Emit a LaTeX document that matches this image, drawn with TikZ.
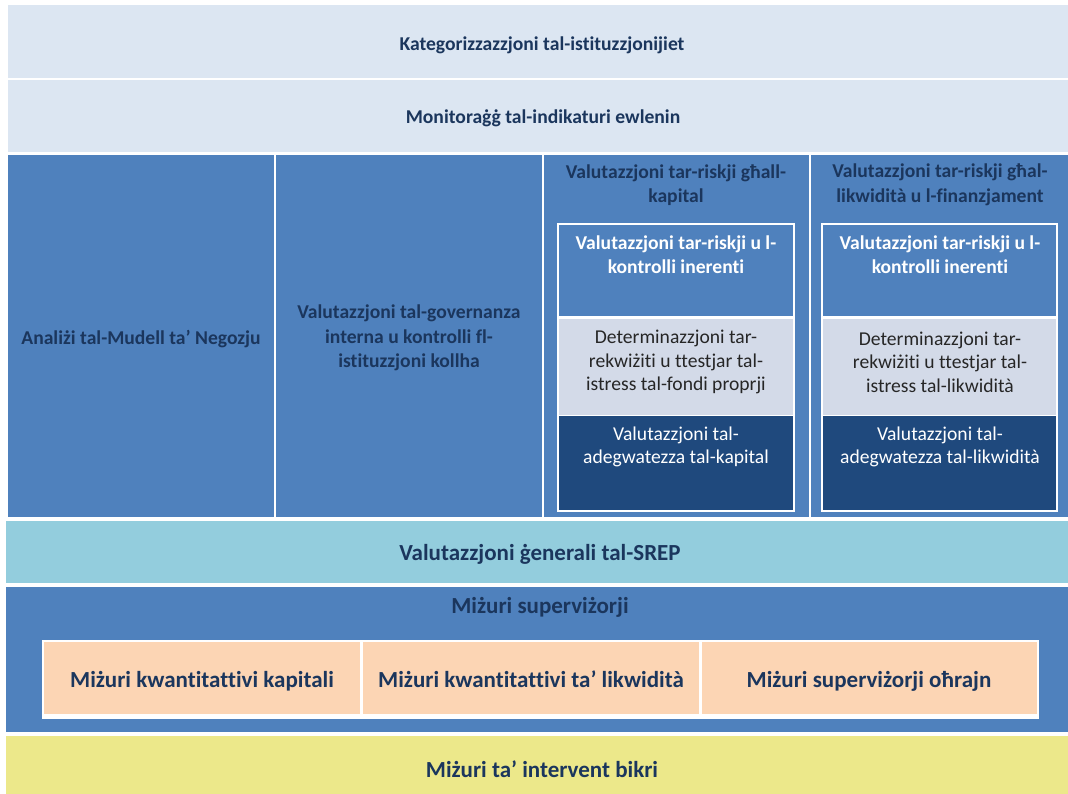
\documentclass[tikz,border=0pt]{standalone}
\usepackage{fontspec}
\setmainfont{Carlito}[Ligatures=NoCommon]
\usetikzlibrary{fit}
\definecolor{lightband}{HTML}{DCE6F2}
\definecolor{midblue}{HTML}{4F81BD}
\definecolor{lav}{HTML}{D3DAE8}
\definecolor{navybox}{HTML}{1F497D}
\definecolor{srepc}{HTML}{93CDDD}
\definecolor{peach}{HTML}{FCD5B4}
\definecolor{yel}{HTML}{ECE88A}
\definecolor{navytxt}{HTML}{1B365D}
\begin{document}
\begin{tikzpicture}[x=1pt,y=-1pt,
  area/.style={inner sep=0pt, outer sep=0pt, draw=none},
  lbl/.style={font=\bfseries\fontsize{19.6}{24.5}\selectfont, text=navytxt, align=center, inner sep=0pt},
  wlbl/.style={font=\bfseries\fontsize{19.6}{24}\selectfont, text=white, align=center, inner sep=0pt},
  plbl/.style={font=\fontsize{19.6}{23.5}\selectfont, text=black!85, align=center, inner sep=0pt},
  dlbl/.style={font=\fontsize{19.6}{23.5}\selectfont, text=white, align=center, inner sep=0pt},
  big/.style={font=\bfseries\fontsize{23}{26}\selectfont, text=navytxt, align=center, inner sep=0pt, anchor=base}]
\useasboundingbox[fill=white] (0,0) rectangle (1068,794);
% top bands
\node[area, fill=lightband, fit={(8,5) (1068,78)}] (b1) {};
\node[area, fill=lightband, fit={(8,80) (1068,152)}] (b2) {};
% columns
\node[area, fill=midblue, fit={(8,155) (274,517)}] (c1) {};
\node[area, fill=midblue, fit={(276,155) (542,517)}] (c2) {};
\node[area, fill=midblue, fit={(544,155) (809,517)}] (c3) {};
\node[area, fill=midblue, fit={(811,155) (1068,517)}] (c4) {};
% sub-boxes column 3
\node[area, fill=white, fit={(557,223) (795,512)}] (c3frame) {};
\node[area, fill=midblue, fit={(559,225) (793,316)}] (c3a) {};
\node[area, fill=lav, fit={(559,319) (793,415)}] (c3b) {};
\node[area, fill=navybox, fit={(559,416) (793,510)}] (c3c) {};
% sub-boxes column 4
\node[area, fill=white, fit={(821,223) (1058,512)}] (c4frame) {};
\node[area, fill=midblue, fit={(823,225) (1056,316)}] (c4a) {};
\node[area, fill=lav, fit={(823,319) (1056,415)}] (c4b) {};
\node[area, fill=navybox, fit={(823,416) (1056,510)}] (c4c) {};
% bottom bands
\node[area, fill=srepc, fit={(6,521) (1068,583)}] (srep) {};
\node[area, fill=midblue, fit={(6,587) (1068,732)}] (miz) {};
\node[area, fill=white, fit={(42,640) (1039,719)}] (pframe) {};
\node[area, fill=peach, fit={(44,642) (360,714)}] (p1) {};
\node[area, fill=peach, fit={(363,642) (699,714)}] (p2) {};
\node[area, fill=peach, fit={(702,642) (1037,714)}] (p3) {};
\node[area, fill=yel, fit={(6,736) (1068,794)}] (yb) {};
% texts
\node[lbl, anchor=base] (t1) at (542,50.5) {Kategorizzazzjoni tal-istituzzjonijiet};
\node[lbl, anchor=base] (t2) at (543,123.5) {Monitoraġġ tal-indikaturi ewlenin};
\node[lbl, anchor=base] (tc1) at (141,344.5) {Analiżi tal-Mudell ta’ Negozju};
\node[lbl] (tc2) at (409,338) {Valutazzjoni tal-governanza\\interna u kontrolli fl-\\istituzzjoni kollha};
\node[lbl] (tc3) at (676,185) {Valutazzjoni tar-riskji għall-\\kapital};
\node[lbl] (tc4) at (940,185) {Valutazzjoni tar-riskji għal-\\likwidità u l-finanzjament};
\node[wlbl] (tc3a) at (676,255) {Valutazzjoni tar-riskji u l-\\kontrolli inerenti};
\node[plbl] (tc3b) at (676,362) {Determinazzjoni tar-\\rekwiżiti u ttestjar tal-\\istress tal-fondi proprji};
\node[dlbl] (tc3c) at (676,447) {Valutazzjoni tal-\\adegwatezza tal-kapital};
\node[wlbl] (tc4a) at (940,255) {Valutazzjoni tar-riskji u l-\\kontrolli inerenti};
\node[plbl] (tc4b) at (940,362) {Determinazzjoni tar-\\rekwiżiti u ttestjar tal-\\istress tal-likwidità};
\node[dlbl] (tc4c) at (940,447) {Valutazzjoni tal-\\adegwatezza tal-likwidità};
\node[big] (tsrep) at (540,560.5) {Valutazzjoni ġenerali tal-SREP};
\node[big] (tmiz) at (540,613.5) {Miżuri superviżorji};
\node[big] (tp1) at (202,687.5) {Miżuri kwantitattivi kapitali};
\node[big] (tp2) at (531,687.5) {Miżuri kwantitattivi ta’ likwidità};
\node[big] (tp3) at (869,687.5) {Miżuri superviżorji oħrajn};
\node[big] (tyb) at (542,777.5) {Miżuri ta’ intervent bikri};
\end{tikzpicture}
\end{document}
